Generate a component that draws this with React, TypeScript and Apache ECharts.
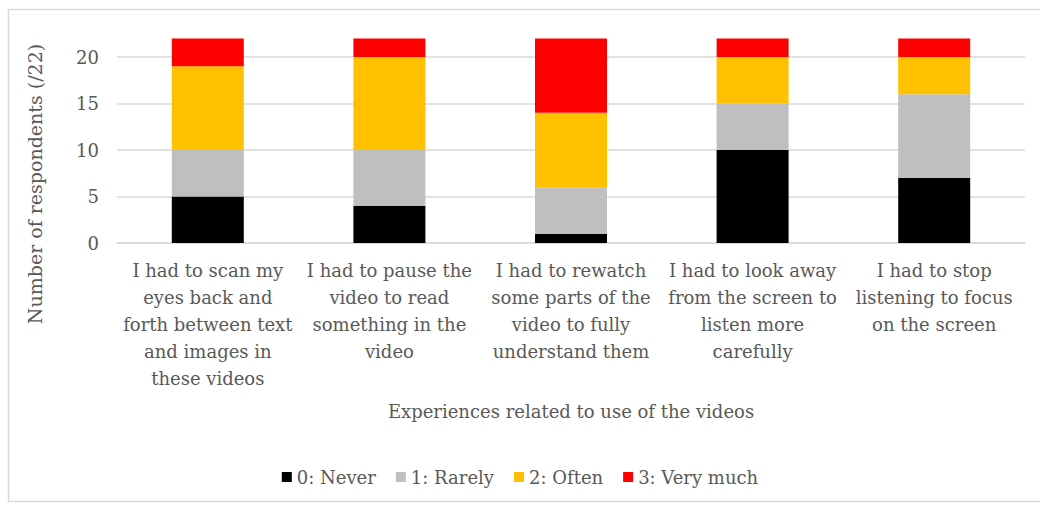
import React, { useEffect, useRef } from "react";
import * as echarts from "echarts";

const categories = [
  "I had to scan my\neyes back and\nforth between text\nand images in\nthese videos",
  "I had to pause the\nvideo to read\nsomething in the\nvideo",
  "I had to rewatch\nsome parts of the\nvideo to fully\nunderstand them",
  "I had to look away\nfrom the screen to\nlisten more\ncarefully",
  "I had to stop\nlistening to focus\non the screen",
];
const seriesNames = ["0: Never", "1: Rarely", "2: Often", "3: Very much"];
const never = [5, 4, 1, 10, 7];
const rarely = [5, 6, 5, 5, 9];
const often = [9, 10, 8, 5, 4];
const veryMuch = [3, 2, 8, 2, 2];
const colors = ["#000000", "#bfbfbf", "#ffc000", "#ff0000"];
const yTitle = "Number of respondents (/22)";
const xTitle = "Experiences related to use of the videos";

const FONT = "DejaVu Serif";
const TXT = "#595959";
const FS = 18;

export default function App() {
  const ref = useRef<HTMLDivElement>(null);
  useEffect(() => {
    if (!ref.current) return;
    const chart = echarts.init(ref.current, null, { renderer: "svg" });
    const values = [never, rarely, often, veryMuch];
    chart.setOption({
      animation: false,
      textStyle: { fontFamily: FONT, color: TXT },
      grid: { left: 117, right: 15, top: 38.4, bottom: 268, containLabel: false },
      legend: {
        data: seriesNames,
        bottom: 20,
        left: "center",
        icon: "rect",
        itemWidth: 10,
        itemHeight: 10,
        itemGap: 20,
        textStyle: { fontFamily: FONT, fontSize: FS, color: TXT },
      },
      xAxis: {
        type: "category",
        data: categories,
        axisLine: { lineStyle: { color: "#d9d9d9", width: 1.5 } },
        axisTick: { show: false },
        axisLabel: {
          interval: 0,
          margin: 14,
          fontFamily: FONT,
          fontSize: FS,
          lineHeight: 27,
          color: TXT,
          align: "center",
        },
      },
      yAxis: {
        type: "value",
        min: 0,
        max: 22,
        interval: 5,
        axisLine: { show: false },
        axisTick: { show: false },
        splitLine: { showMaxLine: false, lineStyle: { color: "#d9d9d9", width: 1.5 } },
        axisLabel: {
          margin: 18,
          showMaxLabel: false,
          fontFamily: FONT,
          fontSize: FS,
          color: TXT,
          formatter: (v: number) => (v > 20 ? "" : String(v)),
        },
      },
      series: seriesNames.map((name, i) => ({
        name,
        type: "bar",
        stack: "total",
        barWidth: 72,
        itemStyle: { color: colors[i] },
        data: values[i],
      })),
      graphic: [
        {
          type: "rect",
          shape: { x: 8.5, y: 9.5, width: 1100, height: 492 },
          style: { fill: "none", stroke: "#d9d9d9", lineWidth: 1.5 },
          silent: true,
        },
        {
          type: "text",
          x: 35,
          y: 184,
          rotation: Math.PI / 2,
          style: {
            text: yTitle,
            fontFamily: FONT,
            fontSize: 19,
            fill: TXT,
            align: "center",
            verticalAlign: "middle",
          },
        },
        {
          type: "text",
          x: 571,
          y: 411,
          style: {
            text: xTitle,
            fontFamily: FONT,
            fontSize: FS,
            fill: TXT,
            align: "center",
            verticalAlign: "middle",
          },
        },
      ],
    });
    return () => chart.dispose();
  }, []);
  return (
    <div
      ref={ref}
      style={{ position: "absolute", left: 0, top: 0, width: 1040, height: 511 }}
    />
  );
}
